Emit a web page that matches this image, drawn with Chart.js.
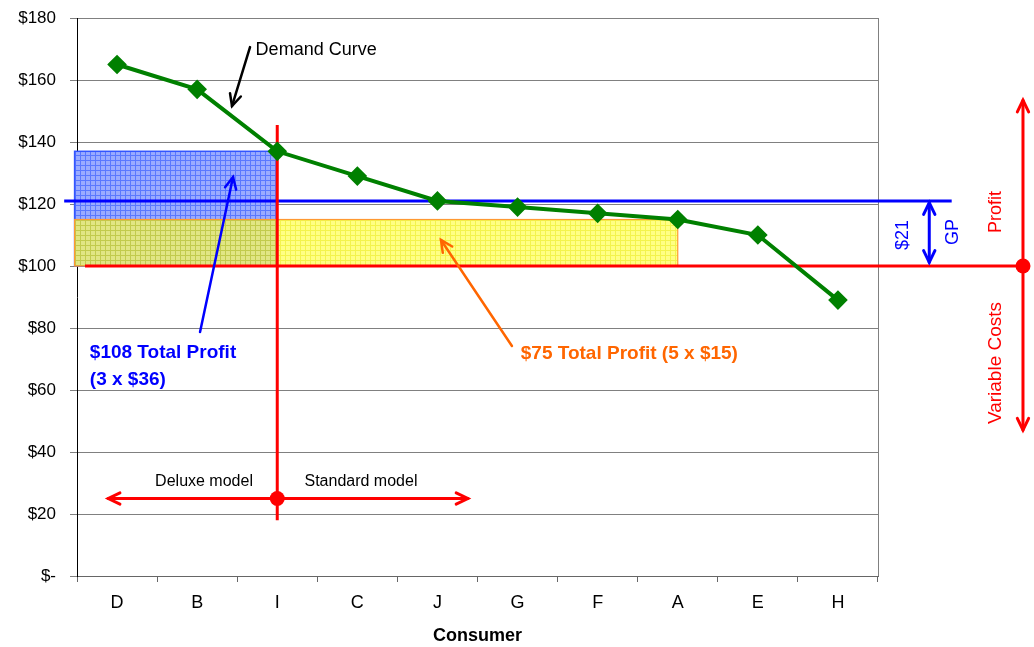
<!DOCTYPE html>
<html>
<head>
<meta charset="utf-8">
<title>Demand Curve - Deluxe vs Standard</title>
<script src="https://cdn.jsdelivr.net/npm/chart.js@4.4.1/dist/chart.umd.min.js"></script>
<style>
  html, body { margin: 0; padding: 0; background: #ffffff; }
  #wrap { width: 1034px; height: 647px; position: relative; }
</style>
</head>
<body>
<div id="wrap"><canvas id="demandChart"></canvas></div>
<script>
// Chart data
const consumers = ['D', 'B', 'I', 'C', 'J', 'G', 'F', 'A', 'E', 'H'];
const demandPrices = [165, 157, 137, 129, 121, 119, 117, 115, 110, 89];
const yTicks = [0, 20, 40, 60, 80, 100, 120, 140, 160, 180];

// Annotation values (category index, price)
const variableCost = 100;
const deluxePrice = 137;
const standardPrice = 115;
const gpLevel = 121;
const deluxeBox = [-0.53, 2];     // index range of blue box
const standardBox = [-0.53, 7];   // index range of yellow box
const splitIndex = 2;             // consumer I
const splitLine = [145.5, 18];
const modelArrow = [-0.11, 4.38, 25];
const gpArrow = [10.14, 120.4, 101.2];
const costArrow = [11.31, 153.5, 47.1];

const FONT = "'Liberation Sans', Arial, sans-serif";

function makePattern(ctx, base, line, size) {
    const c = document.createElement('canvas');
    c.width = size; c.height = size;
    const p = c.getContext('2d');
    p.fillStyle = base;
    p.fillRect(0, 0, size, size);
    p.fillStyle = line;
    p.fillRect(0, 0, size, 1);
    p.fillRect(0, 0, 1, size);
    return ctx.createPattern(c, 'repeat');
}

function arrowHead(ctx, x1, y1, x2, y2, len, spread) {
    const a = Math.atan2(y2 - y1, x2 - x1);
    ctx.beginPath();
    ctx.moveTo(x2 - len * Math.cos(a - spread), y2 - len * Math.sin(a - spread));
    ctx.lineTo(x2, y2);
    ctx.lineTo(x2 - len * Math.cos(a + spread), y2 - len * Math.sin(a + spread));
    ctx.stroke();
}

function arrow(ctx, x1, y1, x2, y2, color, width, both) {
    ctx.save();
    ctx.strokeStyle = color;
    ctx.lineWidth = width;
    ctx.lineCap = 'round';
    ctx.lineJoin = 'miter';
    ctx.beginPath();
    ctx.moveTo(x1, y1);
    ctx.lineTo(x2, y2);
    ctx.stroke();
    arrowHead(ctx, x1, y1, x2, y2, 13, 0.45);
    if (both) arrowHead(ctx, x2, y2, x1, y1, 13, 0.45);
    ctx.restore();
}

function dot(ctx, x, y, r, color) {
    ctx.save();
    ctx.fillStyle = color;
    ctx.beginPath();
    ctx.arc(x, y, r, 0, Math.PI * 2);
    ctx.fill();
    ctx.restore();
}

function label(ctx, text, x, y, opts) {
    ctx.save();
    ctx.font = opts.font;
    ctx.fillStyle = opts.color;
    ctx.textAlign = opts.align || 'left';
    ctx.textBaseline = 'middle';
    ctx.translate(x, y);
    if (opts.rotate) ctx.rotate(-Math.PI / 2);
    ctx.fillText(text, 0, 0);
    ctx.restore();
}

const annotationPlugin = {
    id: 'annotations',
    beforeDatasetsDraw(chart) {
        const { ctx, chartArea, scales: { x, y } } = chart;
        const px = v => x.getPixelForValue(v);
        const py = v => y.getPixelForValue(v);

        // right border of plot
        ctx.save();
        ctx.strokeStyle = '#808080';
        ctx.lineWidth = 1;
        ctx.beginPath();
        ctx.moveTo(chartArea.right + 0.5, chartArea.top);
        ctx.lineTo(chartArea.right + 0.5, chartArea.bottom);
        ctx.stroke();
        ctx.restore();

        // blue box: deluxe profit
        ctx.save();
        const bx = px(deluxeBox[0]), bw = px(deluxeBox[1]) - bx;
        const by = py(deluxePrice), bh = py(variableCost) - by;
        ctx.fillStyle = makePattern(ctx, '#9aabff', '#5a78ff', 5);
        ctx.fillRect(bx, by, bw, bh);
        ctx.strokeStyle = '#3355ff';
        ctx.lineWidth = 1.5;
        ctx.strokeRect(bx, by, bw, bh);

        // yellow box: standard profit
        const yx = px(standardBox[0]), yw = px(standardBox[1]) - yx;
        const yy = py(standardPrice), yh = py(variableCost) - yy;
        ctx.globalAlpha = 0.7;
        ctx.fillStyle = makePattern(ctx, '#ffff50', '#eeee00', 5);
        ctx.fillRect(yx, yy, yw, yh);
        ctx.globalAlpha = 1;
        ctx.strokeStyle = '#ff9933';
        ctx.lineWidth = 1.2;
        ctx.strokeRect(yx, yy, yw, yh);
        ctx.restore();

        // blue GP line
        ctx.save();
        ctx.strokeStyle = '#0000ff';
        ctx.lineWidth = 3;
        ctx.beginPath();
        ctx.moveTo(px(-0.66), py(gpLevel));
        ctx.lineTo(px(10.42), py(gpLevel));
        ctx.stroke();

        // red variable cost line
        ctx.strokeStyle = '#ff0000';
        ctx.beginPath();
        ctx.moveTo(px(-0.4), py(variableCost));
        ctx.lineTo(px(costArrow[0]), py(variableCost));
        ctx.stroke();

        // red split line at consumer I
        ctx.beginPath();
        ctx.moveTo(px(splitIndex), py(splitLine[0]));
        ctx.lineTo(px(splitIndex), py(splitLine[1]));
        ctx.stroke();
        ctx.restore();
    },
    afterDatasetsDraw(chart) {
        const { ctx, scales: { x, y } } = chart;
        const px = v => x.getPixelForValue(v);
        const py = v => y.getPixelForValue(v);

        // model arrow
        arrow(ctx, px(modelArrow[0]), py(modelArrow[2]), px(modelArrow[1]), py(modelArrow[2]), '#ff0000', 3, true);
        dot(ctx, px(splitIndex), py(modelArrow[2]), 7.5, '#ff0000');
        label(ctx, 'Deluxe model', px(1.086), py(30.6), { font: '16px ' + FONT, color: '#000', align: 'center' });
        label(ctx, 'Standard model', px(3.045), py(30.6), { font: '16px ' + FONT, color: '#000', align: 'center' });

        // GP arrow
        arrow(ctx, px(gpArrow[0]), py(gpArrow[1]), px(gpArrow[0]), py(gpArrow[2]), '#0000ff', 3, true);
        label(ctx, '$21', px(9.81), py(110), { font: '18px ' + FONT, color: '#0000ff', align: 'center', rotate: true });
        label(ctx, 'GP', px(10.44), py(111), { font: '18px ' + FONT, color: '#0000ff', align: 'center', rotate: true });

        // profit / variable cost arrow
        arrow(ctx, px(costArrow[0]), py(costArrow[1]), px(costArrow[0]), py(costArrow[2]), '#ff0000', 3, true);
        dot(ctx, px(costArrow[0]), py(variableCost), 7.5, '#ff0000');
        label(ctx, 'Profit', px(10.97), py(117.4), { font: '18px ' + FONT, color: '#ff0000', align: 'center', rotate: true });
        label(ctx, 'Variable Costs', px(10.97), py(68.7), { font: '19px ' + FONT, color: '#ff0000', align: 'center', rotate: true });

        // demand curve callout
        arrow(ctx, px(1.66), py(170.6), px(1.435), py(151.6), '#000000', 2.5, false);
        label(ctx, 'Demand Curve', px(1.73), py(169.7), { font: '18px ' + FONT, color: '#000' });

        // deluxe profit callout
        arrow(ctx, px(1.036), py(78.7), px(1.448), py(128.7), '#0000ff', 2.5, false);
        label(ctx, '$108 Total Profit', px(-0.34), py(71.9), { font: 'bold 19px ' + FONT, color: '#0000ff' });
        label(ctx, '(3 x $36)', px(-0.34), py(63.2), { font: 'bold 19px ' + FONT, color: '#0000ff' });

        // standard profit callout
        arrow(ctx, px(4.93), py(74.2), px(4.044), py(108.4), '#ff6600', 2.5, false);
        label(ctx, '$75 Total Profit (5 x $15)', px(5.04), py(71.6), { font: 'bold 19px ' + FONT, color: '#ff6600' });
    }
};

const ctx = document.getElementById('demandChart');
new Chart(ctx, {
    type: 'line',
    data: {
        labels: consumers,
        datasets: [{
            label: 'Demand Curve',
            data: demandPrices,
            borderColor: '#008000',
            backgroundColor: '#008000',
            borderWidth: 4,
            pointStyle: 'rectRot',
            pointRadius: 7,
            pointBackgroundColor: '#008000',
            pointBorderColor: '#008000',
            tension: 0
        }]
    },
    options: {
        responsive: true,
        maintainAspectRatio: false,
        animation: false,
        layout: { padding: { left: 0, right: 156, top: 18, bottom: 0 } },
        plugins: {
            legend: { display: false },
            tooltip: { enabled: false }
        },
        scales: {
            x: {
                offset: true,
                grid: {
                    offset: true,
                    drawOnChartArea: false,
                    drawTicks: true,
                    tickLength: 6,
                    color: '#666666'
                },
                border: { color: '#666666', width: 1 },
                ticks: {
                    color: '#000',
                    padding: 10,
                    font: { family: FONT, size: 18 }
                },
                title: {
                    display: true,
                    text: 'Consumer',
                    color: '#000',
                    padding: { top: 0, bottom: 0 },
                    font: { family: FONT, size: 18, weight: 'bold' }
                },
                afterFit(scale) { scale.height = 71; }
            },
            y: {
                min: 0,
                max: 180,
                afterBuildTicks(scale) { scale.ticks = yTicks.map(v => ({ value: v })); },
                grid: {
                    color: '#808080',
                    tickLength: 7,
                    lineWidth: 1
                },
                border: { color: '#000000', width: 1 },
                ticks: {
                    color: '#000',
                    padding: 14,
                    font: { family: FONT, size: 17 },
                    callback: v => v === 0 ? '$-' : '$' + v
                },
                afterFit(scale) {
                    scale.width = 77;
                    scale.paddingTop = 0;
                    scale.paddingBottom = 0;
                }
            }
        }
    },
    plugins: [annotationPlugin]
});
</script>
</body>
</html>
